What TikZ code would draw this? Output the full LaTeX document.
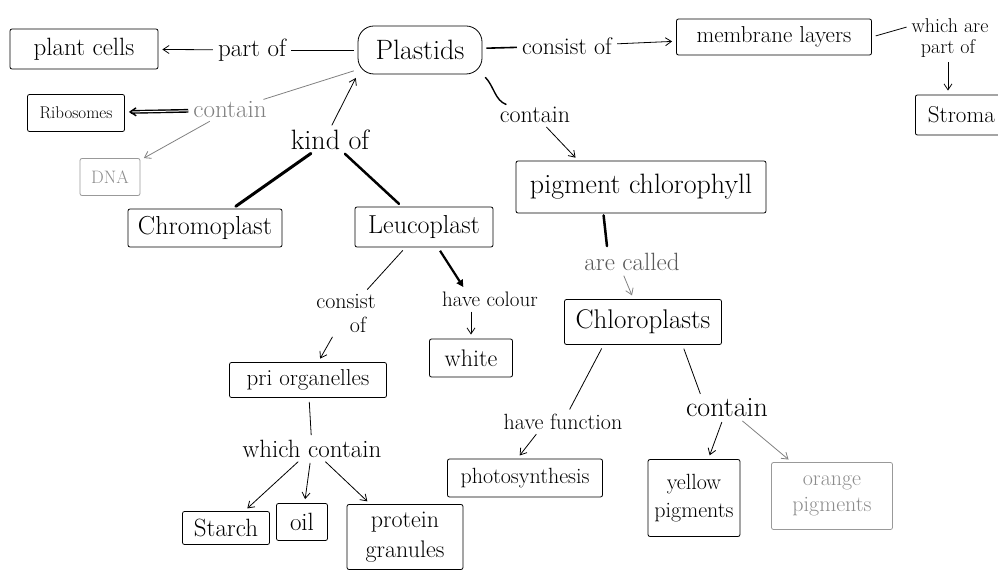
\documentclass[tikz,border=0pt]{standalone}
\usetikzlibrary{arrows.meta,calc}
\begin{document}
\begin{tikzpicture}[x=1pt,y=-1pt,
  fz/.style={font=\fontsize{#1}{#1}\selectfont},
  lbl/.style={inner sep=1pt},
  bx/.style={draw, line width=0.8pt, rounded corners=2pt, inner sep=0pt, align=center},
  faint/.style={draw=black!40, text=black!45},
  ln/.style={line width=0.8pt, shorten <=4pt, shorten >=4pt},
  ar/.style={ln, -{Straight Barb[length=6pt,width=8pt]}},
  thick1/.style={line width=3pt, shorten <=4pt, shorten >=4pt, line cap=round},
]
\useasboundingbox (0,0) rectangle (998,585);
% top row
\node[bx, fz=28, minimum width=124, minimum height=48, rounded corners=16pt] (plastids) at (420,50) {Plastids};
\node[bx, fz=25, minimum width=148, minimum height=40] (plantcells) at (84,49) {plant cells};
\node[lbl, fz=25] (partof) at (252,50) {part of};
\node[lbl, fz=24] (consistof) at (567,46) {consist of};
\node[bx, fz=23, minimum width=195, minimum height=36] (membrane) at (774,37) {membrane layers};
\node[lbl, fz=20] (whichare) at (950,26) {which are};
\node[lbl, fz=20] (partof2) at (948,48) {part of};
\node[bx, fz=23, minimum width=110, minimum height=40, anchor=west] (stroma) at (915,115) {Stroma\hspace*{18pt}};
% left
\node[lbl, fz=25, text=black!50] (containL) at (230,110) {contain};
\node[bx, fz=17, minimum width=97, minimum height=37] (ribosomes) at (76,113) {Ribosomes};
\node[bx, faint, fz=18, minimum width=60, minimum height=37] (dna) at (110,177) {DNA};
\node[lbl, fz=28] (kindof) at (330,140) {kind of};
\node[bx, fz=26, minimum width=154, minimum height=38] (chromo) at (205,228) {Chromoplast};
\node[bx, fz=26, minimum width=138, minimum height=40] (leuco) at (424,227) {Leucoplast};
% right branch
\node[lbl, fz=24] (containR) at (535,115) {contain};
\node[bx, fz=28, minimum width=250, minimum height=52] (pigment) at (641,187) {pigment chlorophyll};
\node[lbl, fz=25, text=black!65] (arecalled) at (632,262) {are called};
\node[bx, fz=27, minimum width=157, minimum height=45] (chloro) at (643,322) {Chloroplasts};
\node[lbl, fz=22] (havefunc) at (563,422) {have function};
\node[bx, fz=22, minimum width=155, minimum height=38] (photo) at (525,478) {photosynthesis};
\node[lbl, fz=28] (containC) at (727,408) {contain};
\node[bx, fz=22, minimum width=92, minimum height=77] (yellow) at (694,498) {yellow\\[6pt]pigments};
\node[bx, faint, fz=22, minimum width=121, minimum height=67] (orange) at (832,496) {orange\\[4pt]pigments};
% leucoplast branch
\node[lbl, fz=22, align=center] (consistL) at (346,313) {consist\\[2pt]\hspace*{24pt}of};
\node[lbl, fz=21] (havecolour) at (490,299) {have colour};
\node[bx, fz=24, minimum width=83, minimum height=38] (white) at (471,358) {white};
\node[bx, fz=23, minimum width=157, minimum height=35] (priorg) at (308,380) {pri organelles};
\node[lbl, fz=25] (whichcontain) at (312,449) {which contain};
\node[bx, fz=25, minimum width=87, minimum height=33] (starch) at (226,528) {Starch};
\node[bx, fz=25, minimum width=51, minimum height=37] (oil) at (302,522) {oil};
\node[bx, fz=24, minimum width=116, minimum height=65] (protein) at (405,537) {protein\\[6pt]granules};
% connectors
\draw[ln] (plastids) -- (partof);
\draw[ar] (partof) -- (plantcells);
\draw[ln, line width=1.6pt] (plastids) -- (consistof);
\draw[ar] (consistof) -- (membrane);
\draw[ln] (membrane.east) -- (whichare.west);
\draw[ar] (partof2) -- (stroma.north -| partof2);
\draw[ln, black!50] (containL) -- (plastids);
\draw[ar, line width=1.4pt, double distance=1pt, double=white] (containL) -- (ribosomes);
\draw[ar, black!50] (containL) -- (dna);
\draw[ar] (kindof.north) -- (plastids.south west);
\draw[thick1] (kindof) -- (chromo);
\draw[thick1, line width=2.5pt] (kindof) -- (leuco);
\draw[ln, line width=1.4pt] (plastids.south east) to[out=-45,in=160] (containR);
\draw[ar] (containR) -- ($(pigment.north west)!0.25!(pigment.north east)$);
\draw[thick1, line width=2.5pt, shorten <=2pt, shorten >=6pt] ($(pigment.south west)!0.35!(pigment.south east)$) -- ($(arecalled.north west)!0.25!(arecalled.north east)$);
\draw[ar, black!50] ($(arecalled.south west)!0.4!(arecalled.south east)$) -- (chloro);
\draw[ln] ($(chloro.south west)!0.25!(chloro.south east)$) -- (havefunc);
\draw[ar] ($(havefunc.south west)!0.3!(havefunc.south east)$) -- ($(photo.north west)!0.45!(photo.north east)$);
\draw[ln] ($(chloro.south west)!0.75!(chloro.south east)$) -- ($(containC.north west)!0.2!(containC.north east)$);
\draw[ar] (containC) -- (yellow);
\draw[ar, black!50] (containC) -- (orange);
\draw[ln] (leuco) -- (consistL);
\draw[ar] (consistL) -- (priorg);
\draw[line width=2.2pt, shorten <=4pt, shorten >=4pt, -{Triangle[length=7pt,width=7pt]}] ($(leuco.south west)!0.6!(leuco.south east)$) -- ($(havecolour.north west)!0.25!(havecolour.north east)$);
\draw[ar] (havecolour.south -| white.north) -- (white.north);
\draw[ln] (priorg) -- (whichcontain);
\draw[ar] (whichcontain) -- (starch);
\draw[ar] (whichcontain) -- (oil);
\draw[ar] (whichcontain) -- (protein);
\end{tikzpicture}
\end{document}
